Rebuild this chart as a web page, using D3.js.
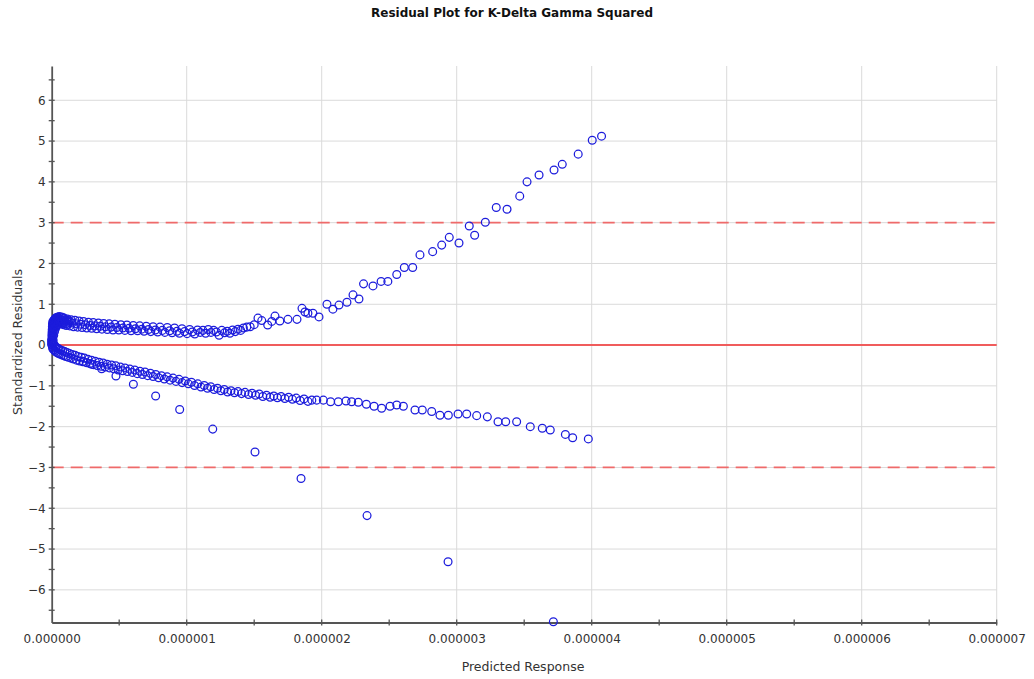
<!DOCTYPE html>
<html>
<head>
<meta charset="utf-8">
<script src="https://cdn.jsdelivr.net/npm/d3@7"></script>
<style>
  body { margin: 0; background: #ffffff; }
  svg { display: block; font-family: "DejaVu Sans", "Liberation Sans", Arial, sans-serif; }
</style>
</head>
<body>
<svg id="chart" width="1034" height="679"></svg>
<script>
// ---- chart text ----
const chartTitle = "Residual Plot for K-Delta Gamma Squared";
const xAxisTitle = "Predicted Response";
const yAxisTitle = "Standardized Residuals";

// ---- axis ticks ----
const xTickValues = [0, 1e-6, 2e-6, 3e-6, 4e-6, 5e-6, 6e-6, 7e-6];
const xMinorTicks = [0.5e-6, 1.5e-6, 2.5e-6, 3.5e-6, 4.5e-6, 5.5e-6, 6.5e-6];
const yTickValues = [-6, -5, -4, -3, -2, -1, 0, 1, 2, 3, 4, 5, 6];
const yMinorTicks = [-6.5, -5.5, -4.5, -3.5, -2.5, -1.5, -0.5, 0.5, 1.5, 2.5, 3.5, 4.5, 5.5, 6.5];
const controlLimits = [-3, 3];

// ---- observations: [predicted response in millionths, standardized residual] ----
// dense group of the smallest predictions
const originCluster = [
  [0.001,0.05],[0.002,0.16],[0.003,0.26],[0.004,0.34],[0.005,0.08],[0.006,0.20],[0.007,0.42],[0.008,0.30],
  [0.009,0.50],[0.011,0.12],[0.012,0.38],[0.013,0.56],[0.015,0.24],[0.017,0.45],[0.019,0.60],[0.021,0.33],
  [0.023,0.52],[0.025,0.63],[0.027,0.40],[0.030,0.58],[0.033,0.65],[0.035,0.46],[0.038,0.55],[0.041,0.62],
  [0.044,0.67],[0.047,0.50],[0.052,0.58],[0.058,0.64],[0.064,0.57],[0.070,0.62],[0.076,0.53],[0.082,0.67],
  [0.090,0.55],[0.096,0.62],[0.104,0.52],[0.112,0.60],[0.120,0.51],[0.130,0.59]
];

const upperBranch = [
  [0.000,0.02],[0.001,0.12],[0.002,0.22],[0.003,0.30],[0.004,0.38],[0.005,0.45],[0.006,0.52],[0.008,0.57],
  [0.010,0.35],[0.012,0.48],[0.014,0.60],[0.016,0.42],[0.018,0.55],[0.020,0.63],[0.024,0.50],[0.028,0.66],
  [0.032,0.57],[0.036,0.47],[0.040,0.68],[0.045,0.60],[0.050,0.52],[0.055,0.70],[0.060,0.62],[0.066,0.54],
  [0.072,0.69],[0.078,0.60],[0.085,0.50],[0.092,0.66],[0.100,0.58],[0.108,0.48],[0.116,0.64],[0.125,0.56],
  [0.134,0.47],[0.143,0.62],[0.152,0.54],[0.162,0.45],[0.172,0.61],[0.182,0.52],[0.192,0.44],[0.203,0.59],
  [0.214,0.51],[0.225,0.43],[0.236,0.58],[0.248,0.50],[0.260,0.42],[0.272,0.56],[0.284,0.48],[0.296,0.41],
  [0.308,0.55],[0.320,0.47],[0.333,0.40],[0.346,0.54],[0.359,0.46],[0.372,0.39],[0.385,0.53],[0.398,0.45],
  [0.412,0.38],[0.426,0.52],[0.440,0.44],[0.454,0.37],[0.468,0.51],[0.482,0.43],[0.497,0.37],[0.512,0.50],
  [0.527,0.42],[0.542,0.36],[0.557,0.49],[0.572,0.41],[0.588,0.35],[0.604,0.48],[0.620,0.40],[0.636,0.35],
  [0.652,0.47],[0.668,0.39],[0.684,0.34],[0.700,0.46],[0.717,0.38],[0.734,0.33],[0.751,0.45],[0.768,0.37],
  [0.785,0.32],[0.802,0.44],[0.820,0.36],[0.838,0.31],[0.856,0.43],[0.874,0.35],[0.892,0.30],[0.910,0.42],
  [0.928,0.34],[0.946,0.29],[0.965,0.40],[0.984,0.33],[1.003,0.28],[1.022,0.38],[1.041,0.32],[1.060,0.27],
  [1.080,0.37],[1.100,0.31],[1.120,0.36],[1.140,0.29],[1.160,0.38],[1.180,0.31],[1.200,0.36],[1.220,0.32],
  [1.240,0.24],[1.260,0.36],[1.280,0.30],[1.300,0.34],[1.320,0.29],[1.340,0.37],[1.360,0.33],[1.380,0.39],
  [1.400,0.36],[1.420,0.42],[1.445,0.44],[1.470,0.45],[1.500,0.50],[1.528,0.66],[1.556,0.60],[1.600,0.49],
  [1.630,0.58],[1.654,0.71],[1.690,0.59],[1.750,0.63],[1.817,0.63],[1.854,0.90],[1.876,0.81],[1.898,0.78],
  [1.935,0.78],[1.980,0.69],[2.039,1.00],[2.083,0.88],[2.128,0.98],[2.187,1.05],[2.232,1.23],[2.276,1.13],
  [2.310,1.50],[2.380,1.45],[2.440,1.56],[2.490,1.56],[2.556,1.73],[2.612,1.90],[2.674,1.90],[2.728,2.21],
  [2.822,2.29],[2.889,2.45],[2.945,2.64],[3.017,2.50],[3.093,2.92],[3.133,2.69],[3.212,3.01],[3.293,3.37],
  [3.373,3.33],[3.467,3.65],[3.521,4.00],[3.610,4.17],[3.721,4.29],[3.782,4.43],[3.900,4.68],[4.004,5.02],
  [4.073,5.12]
];

const lowerBranch = [
  [0.000,0.10],[0.002,0.00],[0.004,0.14],[0.006,-0.06],[0.008,0.06],[0.010,-0.10],[0.014,0.02],[0.018,-0.12],
  [0.022,-0.01],[0.026,-0.15],[0.031,-0.05],[0.036,-0.18],[0.042,-0.07],[0.048,-0.20],[0.054,-0.10],[0.060,-0.22],
  [0.067,-0.12],[0.074,-0.24],[0.081,-0.14],[0.089,-0.26],[0.097,-0.16],[0.105,-0.28],[0.114,-0.18],[0.123,-0.30],
  [0.132,-0.21],[0.142,-0.32],[0.152,-0.23],[0.162,-0.34],[0.173,-0.25],[0.184,-0.37],[0.195,-0.28],[0.207,-0.39],
  [0.219,-0.30],[0.231,-0.41],[0.243,-0.32],[0.256,-0.43],[0.269,-0.35],[0.282,-0.45],[0.295,-0.37],[0.309,-0.48],
  [0.323,-0.40],[0.337,-0.50],[0.351,-0.42],[0.366,-0.52],[0.381,-0.44],[0.396,-0.54],[0.411,-0.47],[0.427,-0.56],
  [0.443,-0.49],[0.459,-0.58],[0.475,-0.51],[0.492,-0.61],[0.509,-0.54],[0.526,-0.63],[0.543,-0.56],[0.561,-0.65],
  [0.579,-0.59],[0.597,-0.67],[0.615,-0.61],[0.634,-0.70],[0.653,-0.64],[0.672,-0.72],[0.691,-0.66],[0.711,-0.75],
  [0.731,-0.69],[0.751,-0.77],[0.771,-0.72],[0.792,-0.80],[0.813,-0.75],[0.834,-0.83],[0.855,-0.78],[0.877,-0.86],
  [0.899,-0.81],[0.921,-0.89],[0.943,-0.84],[0.966,-0.92],[0.989,-0.88],[1.012,-0.95],[1.035,-0.91],[1.058,-0.99],
  [1.082,-0.95],[1.106,-1.03],[1.130,-0.99],[1.154,-1.06],[1.178,-1.02],[1.203,-1.09],[1.228,-1.06],[1.253,-1.12],
  [1.278,-1.09],[1.303,-1.15],[1.328,-1.12],[1.354,-1.17],[1.380,-1.14],[1.406,-1.19],[1.432,-1.16],[1.458,-1.21],
  [1.484,-1.18],[1.510,-1.23],[1.537,-1.20],[1.564,-1.26],[1.591,-1.23],[1.618,-1.28],[1.645,-1.25],[1.672,-1.29],
  [1.699,-1.26],[1.727,-1.31],[1.755,-1.28],[1.783,-1.33],[1.811,-1.30],[1.840,-1.36],[1.869,-1.32],[1.898,-1.38],
  [1.927,-1.35],[1.963,-1.35],[2.012,-1.35],[2.066,-1.39],[2.123,-1.39],[2.180,-1.37],[2.222,-1.39],[2.271,-1.40],
  [2.331,-1.45],[2.388,-1.50],[2.444,-1.55],[2.506,-1.50],[2.556,-1.47],[2.605,-1.50],[2.691,-1.59],[2.745,-1.59],
  [2.815,-1.63],[2.876,-1.72],[2.938,-1.72],[3.010,-1.69],[3.074,-1.69],[3.148,-1.73],[3.227,-1.76],[3.306,-1.88],
  [3.363,-1.88],[3.444,-1.88],[3.545,-2.00],[3.634,-2.04],[3.693,-2.08],[3.805,-2.19],[3.859,-2.27],[3.975,-2.30]
];

const outlierTail = [
  [0.234,-0.40],[0.296,-0.47],[0.370,-0.58],[0.476,-0.76],[0.605,-0.96],[0.770,-1.25],[0.948,-1.58],
  [1.193,-2.06],[1.506,-2.62],[1.847,-3.27],[2.336,-4.18],[2.936,-5.31],[3.716,-6.78]
];

// ---- layout ----
const svg = d3.select("#chart");
const plot = { left: 51.7, right: 996.7, top: 66, bottom: 622.5 };

const x = d3.scaleLinear().domain([0, 7e-6]).range([plot.left, plot.right]);
const y = d3.scaleLinear().domain([-6.8, 6.84]).range([plot.bottom, plot.top]);

const toPoint = ([p, r]) => ({ pred: p * 1e-6, resid: r });
const points = [...originCluster, ...upperBranch, ...lowerBranch, ...outlierTail].map(toPoint);

svg.append("rect").attr("width", 1034).attr("height", 679).attr("fill", "#ffffff");

// gridlines
const grid = svg.append("g").attr("stroke", "#dadada").attr("stroke-width", 1);
grid.selectAll("line.v").data(xTickValues.slice(1)).join("line")
  .attr("class", "v")
  .attr("x1", d => x(d)).attr("x2", d => x(d))
  .attr("y1", plot.top).attr("y2", plot.bottom);
grid.selectAll("line.h").data(yTickValues).join("line")
  .attr("class", "h")
  .attr("x1", plot.left).attr("x2", plot.right)
  .attr("y1", d => y(d)).attr("y2", d => y(d));

// zero line and +/-3 limits
svg.append("line")
  .attr("x1", plot.left).attr("x2", plot.right)
  .attr("y1", y(0)).attr("y2", y(0))
  .attr("stroke", "#f05c5c").attr("stroke-width", 2);
svg.append("g").selectAll("line").data(controlLimits).join("line")
  .attr("x1", plot.left).attr("x2", plot.right)
  .attr("y1", d => y(d)).attr("y2", d => y(d))
  .attr("stroke", "#ef6a6a").attr("stroke-width", 1.7)
  .attr("stroke-dasharray", "12,7");

// axes
const axisColor = "#555555";
const xAxis = svg.append("g").attr("transform", `translate(0,${plot.bottom})`)
  .call(d3.axisBottom(x).tickValues(xTickValues).tickFormat(d3.format(".6f"))
        .tickSizeInner(0).tickSizeOuter(0).tickPadding(12));
const yAxis = svg.append("g").attr("transform", `translate(${plot.left},0)`)
  .call(d3.axisLeft(y).tickValues(yTickValues).tickFormat(d3.format("d"))
        .tickSizeInner(0).tickSizeOuter(0).tickPadding(6));

[xAxis, yAxis].forEach(g => {
  g.select(".domain").attr("stroke", axisColor).attr("stroke-width", 1.8);
  g.selectAll("text").attr("fill", "#333333").attr("font-size", 12)
    .attr("font-family", "'DejaVu Sans', 'Liberation Sans', Arial, sans-serif");
});

// tick marks crossing each axis
const tickG = svg.append("g").attr("stroke", axisColor).attr("stroke-width", 1.3);
tickG.selectAll("line.xt").data([...xTickValues.slice(1), ...xMinorTicks]).join("line")
  .attr("class", "xt")
  .attr("x1", d => x(d)).attr("x2", d => x(d))
  .attr("y1", plot.bottom - 3).attr("y2", plot.bottom + 3);
tickG.selectAll("line.yt").data([...yTickValues, ...yMinorTicks]).join("line")
  .attr("class", "yt")
  .attr("x1", plot.left - 3).attr("x2", plot.left + 3)
  .attr("y1", d => y(d)).attr("y2", d => y(d));

// observations
svg.append("g").selectAll("circle").data(points).join("circle")
  .attr("cx", d => x(d.pred))
  .attr("cy", d => y(d.resid))
  .attr("r", 3.9)
  .attr("fill", "none")
  .attr("stroke", "#1c1cdc")
  .attr("stroke-width", 1.25);

// titles
svg.append("text")
  .attr("x", 512).attr("y", 16.5)
  .attr("text-anchor", "middle")
  .attr("font-size", 12).attr("font-weight", "bold").attr("fill", "#111")
  .text(chartTitle);
svg.append("text")
  .attr("x", 523).attr("y", 671)
  .attr("text-anchor", "middle")
  .attr("font-size", 12.5).attr("fill", "#333333")
  .text(xAxisTitle);
svg.append("text")
  .attr("transform", "translate(22,342) rotate(-90)")
  .attr("text-anchor", "middle")
  .attr("font-size", 12.5).attr("fill", "#333333")
  .text(yAxisTitle);
</script>
</body>
</html>
